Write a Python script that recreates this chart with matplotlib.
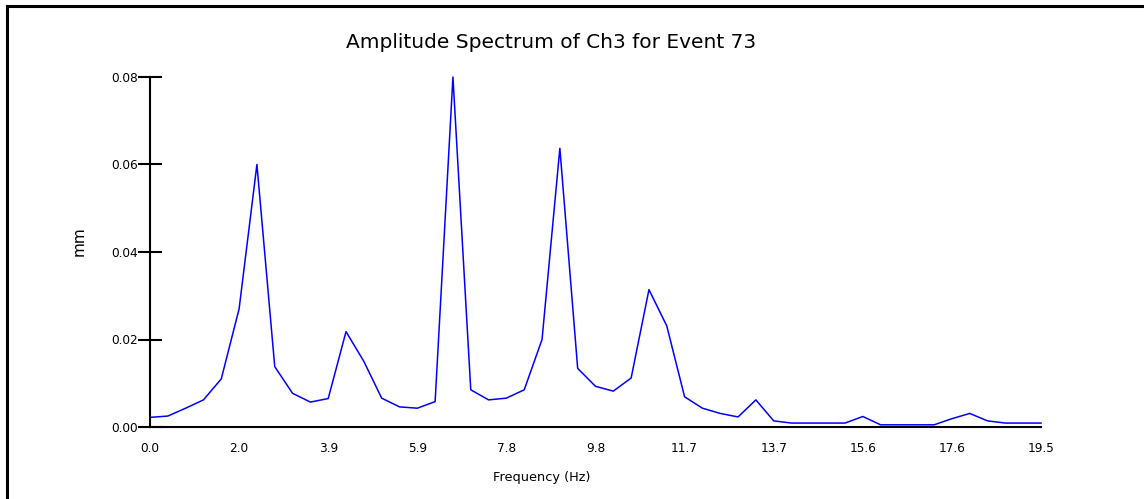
import matplotlib
matplotlib.use("Agg")
import matplotlib.pyplot as plt
from matplotlib.lines import Line2D

# frequency bins (Hz) and amplitude (mm)
freq = [0.0, 0.39, 0.78, 1.17, 1.56, 1.95, 2.34, 2.73, 3.12, 3.51,
        3.9, 4.29, 4.68, 5.07, 5.46, 5.85, 6.24, 6.63, 7.02, 7.41,
        7.8, 8.19, 8.58, 8.97, 9.36, 9.75, 10.14, 10.53, 10.92, 11.31,
        11.7, 12.09, 12.48, 12.87, 13.26, 13.65, 14.04, 14.43, 14.82, 15.21,
        15.6, 15.99, 16.38, 16.77, 17.16, 17.55, 17.94, 18.33, 18.72, 19.11,
        19.5]
amp = [0.0022, 0.0025, 0.0043, 0.0062, 0.0110, 0.0270, 0.0600, 0.0138, 0.0077, 0.0057,
       0.0065, 0.0218, 0.0150, 0.0066, 0.0046, 0.0043, 0.0058, 0.0800, 0.0085, 0.0062,
       0.0066, 0.0085, 0.0200, 0.0637, 0.0134, 0.0093, 0.0082, 0.0112, 0.0314, 0.0231,
       0.0069, 0.0043, 0.0031, 0.0023, 0.0062, 0.0014, 0.0009, 0.0009, 0.0009, 0.0009,
       0.0024, 0.0005, 0.0005, 0.0005, 0.0005, 0.0019, 0.0031, 0.0014, 0.0009, 0.0009,
       0.0009]

xticks = [0.0, 1.95, 3.9, 5.85, 7.8, 9.75, 11.7, 13.65, 15.6, 17.55, 19.5]
xticklabels = ["0.0", "2.0", "3.9", "5.9", "7.8", "9.8", "11.7", "13.7", "15.6", "17.6", "19.5"]
yticks = [0.0, 0.02, 0.04, 0.06, 0.08]
yticklabels = ["0.00", "0.02", "0.04", "0.06", "0.08"]

W, H = 1144, 499
fig = plt.figure(figsize=(W / 100, H / 100), dpi=100)
ax = fig.add_axes([150 / W, 1 - 427 / H, (1041 - 150) / W, (427 - 77) / H])

ax.plot(freq, amp, color="#0000ff", linewidth=1.1, clip_on=False)
ax.set_xlim(0, 19.5)
ax.set_ylim(0, 0.08)

for s in ["top", "right"]:
    ax.spines[s].set_visible(False)
for s in ["left", "bottom"]:
    ax.spines[s].set_linewidth(1.5)

ax.set_xticks(xticks)
ax.set_xticklabels(xticklabels)
ax.set_yticks(yticks)
ax.set_yticklabels(yticklabels)
ax.tick_params(axis="x", length=0, pad=11, labelsize=8.7)
ax.tick_params(axis="y", direction="inout", length=17, width=1.5, pad=0, labelsize=8.7)

fig.text(551 / W, 1 - 42 / H, "Amplitude Spectrum of Ch3 for Event 73",
         ha="center", va="center", fontsize=14.5)
fig.text(542 / W, 1 - 477 / H, "Frequency (Hz)", ha="center", va="center", fontsize=9.3)
fig.text(79 / W, 1 - 241 / H, "mm", ha="center", va="center", rotation=90, fontsize=11)

# outer frame (top and left edges only)
fig.add_artist(Line2D([7 / W, 7 / W], [0, 1 - 6 / H], transform=fig.transFigure, color="black", linewidth=2.2))
fig.add_artist(Line2D([7 / W, 1], [1 - 6 / H, 1 - 6 / H], transform=fig.transFigure, color="black", linewidth=2.2))

fig.savefig("out.png", dpi=100)
